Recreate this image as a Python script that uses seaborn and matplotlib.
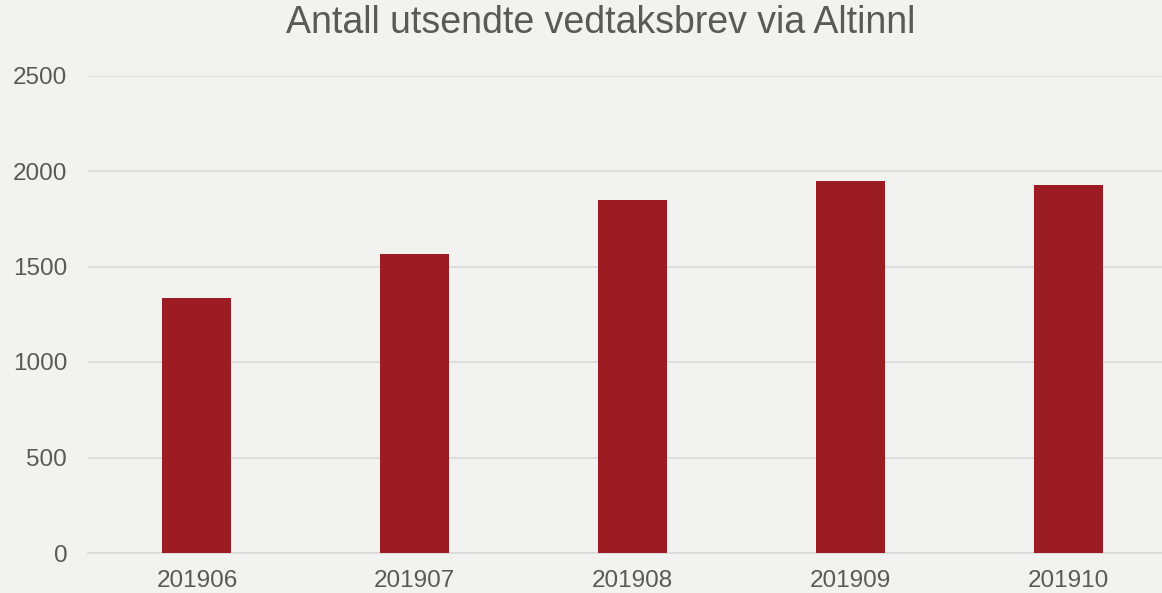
import matplotlib
matplotlib.use("Agg")
import matplotlib.pyplot as plt
import seaborn as sns
import pandas as pd

# data
months = ["201906", "201907", "201908", "201909", "201910"]
antall = [1335, 1568, 1848, 1947, 1928]

bg = "#f2f2f1"
bar_col = "#9b1c23"
txt_col = "#595959"

sns.set_theme(style="white")
plt.rcParams["font.family"] = ["Liberation Sans", "DejaVu Sans"]

df = pd.DataFrame({"month": months, "antall": antall})

fig = plt.figure(figsize=(11.62, 5.93), dpi=100, facecolor=bg)
ax = fig.add_axes([88 / 1162, 1 - 553 / 593, 1 - 88 / 1162, (553 - 75.5) / 593])
ax.set_facecolor(bg)

sns.barplot(data=df, x="month", y="antall", color=bar_col, saturation=1,
            width=0.317, linewidth=0, ax=ax, zorder=3)

ax.set_ylim(0, 2500)
ax.set_xlim(-0.5, 4.5 - 15 / 218)
ax.set_yticks(range(0, 2501, 500))
ax.yaxis.grid(True, color="#d9d9d9", linewidth=1.2, zorder=0)
ax.xaxis.grid(False)
for s in ["top", "right", "left"]:
    ax.spines[s].set_visible(False)
ax.spines["bottom"].set_color("#d9d9d9")
ax.spines["bottom"].set_linewidth(1.2)
ax.set_xlabel("")
ax.set_ylabel("")
ax.tick_params(axis="both", colors=txt_col, labelsize=17.5, length=0)
ax.tick_params(axis="y", pad=15)
ax.tick_params(axis="x", pad=12)

fig.text(601 / 1162, 1 - 23 / 593, "Antall utsendte vedtaksbrev via Altinnl",
         ha="center", va="center", fontsize=27, color=txt_col)

fig.savefig("out.png", dpi=100, facecolor=bg)
